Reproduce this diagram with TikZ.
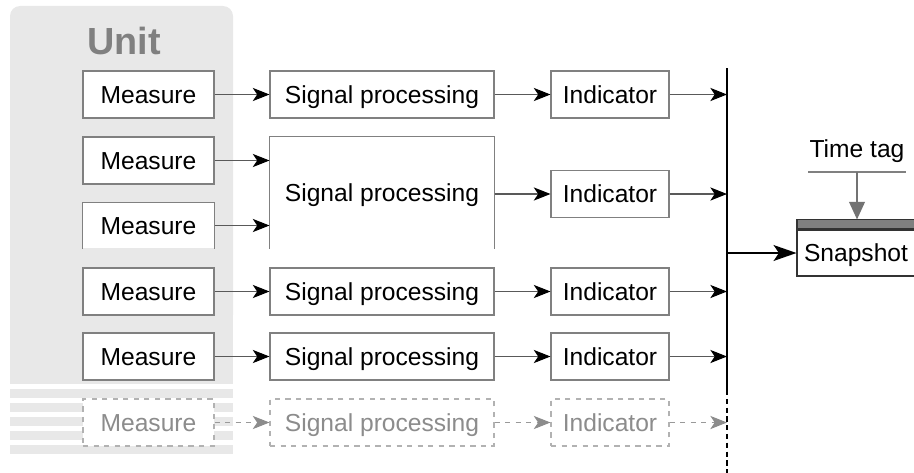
\documentclass[tikz,border=0pt]{standalone}
\usepackage{fontspec}
\setmainfont{Liberation Sans}
\usetikzlibrary{arrows.meta,calc}

\begin{document}
\begin{tikzpicture}[line width=0.6pt, font=\fontsize{14}{16}\selectfont,
    meas/.style={draw=black!50, fill=white, minimum height=0.94cm, minimum width=2.62cm, inner sep=0pt,
      text height=10pt, text depth=0pt},
    proc/.style={meas, minimum width=4.48cm},
    ind/.style={meas, minimum width=2.36cm},
    open/.style={draw=none},
    ghost/.style={dashed, draw=black!30, text=black!45},
    link/.style={-{Stealth[length=9.5pt,width=7.5pt,inset=2.5pt,black]}, black!65},
    ghostlink/.style={-{Stealth[length=9.5pt,width=7.5pt,inset=2.5pt,black!45]}, dashed, black!40}]
  \useasboundingbox (0,0) rectangle (18.28,-9.44);
  \clip (0,0) rectangle (18.28,-9.44);
  % ---------------- unit background ----------------
  \fill[black!9, rounded corners=0.2cm] (0.2,-0.12) rectangle (4.66,-6.5);
  \fill[black!9] (0.2,-3.0) rectangle (4.66,-7.68);
  \foreach \y in {7.78,8.06,8.34,8.62,8.9}
    \fill[black!9] (0.2,-\y) rectangle (4.66,-\y-0.17);
  \node[font=\fontsize{21.5}{24}\selectfont\bfseries, text=black!50] (unit) at (2.48,-0.81) {Unit};
  % ---------------- channels ----------------
  \node[meas] (m1) at (2.97,-1.89) {Measure};
  \node[proc] (p1) at (7.64,-1.89) {Signal processing};
  \node[ind]  (i1) at (12.2,-1.89) {Indicator};

  \node[meas] (m2) at (2.97,-3.21) {Measure};
  \node[meas, open, minimum height=0.9cm] (m3) at (2.97,-4.51) {Measure};
  \node[proc, open, minimum height=2.22cm] (p2) at (7.64,-3.85) {Signal processing};
  \node[ind]  (i2) at (12.2,-3.88) {Indicator};
  \draw[black!50] (m3.south west) |- (m3.north east) -- (m3.south east);
  \draw[black!50] (p2.south west) |- (p2.north east) -- (p2.south east);

  \node[meas] (m4) at (2.97,-5.83) {Measure};
  \node[proc] (p4) at (7.64,-5.83) {Signal processing};
  \node[ind]  (i4) at (12.2,-5.83) {Indicator};

  \node[meas] (m5) at (2.97,-7.13) {Measure};
  \node[proc] (p5) at (7.64,-7.13) {Signal processing};
  \node[ind]  (i5) at (12.2,-7.13) {Indicator};

  \node[meas, ghost] (m6) at (2.97,-8.45) {Measure};
  \node[proc, ghost] (p6) at (7.64,-8.45) {Signal processing};
  \node[ind, ghost]  (i6) at (12.2,-8.45) {Indicator};
  % ---------------- bus ----------------
  \coordinate (bustop) at (14.54,-1.36);
  \coordinate (busmid) at (14.54,-7.8);
  \coordinate (busend) at (14.54,-9.5);
  \draw[line width=1.2pt] (bustop) -- (busmid);
  \draw[line width=1.2pt, dash pattern=on 3pt off 2pt] (busmid) -- (busend);
  % ---------------- connectors ----------------
  \foreach \r in {1,4,5} {
    \draw[link] (m\r) -- (p\r);
    \draw[link] (p\r) -- (i\r);
    \draw[link] (i\r.east) -- (i\r.east -| bustop);
  }
  \draw[link] (m2.east) -- (m2.east -| p2.west);
  \draw[link] (m3.east) -- (m3.east -| p2.west);
  \draw[link] (i2.west -| p2.east) -- (i2.west);
  \draw[link] (i2.east) -- (i2.east -| bustop);
  \draw[ghostlink] (m6) -- (p6);
  \draw[ghostlink] (p6) -- (i6);
  \draw[ghostlink] (i6.east) -- (i6.east -| bustop);
  % ---------------- snapshot ----------------
  \node[draw=black!80, fill=white, minimum height=0.92cm, minimum width=2.36cm, inner sep=0pt,
        text height=10pt, text depth=0pt] (snap) at (17.12,-5.06) {Snapshot};
  \node[draw=black!80, fill=black!50, minimum height=0.18cm, minimum width=2.36cm, inner sep=0pt, anchor=south] (band) at (snap.north) {};
  \node (tag) at (17.14,-3.02) {Time tag};
  \coordinate (tagl) at (16.16,-3.44);
  \coordinate (tagr) at (18.12,-3.44);
  \draw[black!50, line width=1.2pt] (tagl) -- (tagr);
  \draw[-{Stealth[length=10pt,width=9pt,inset=0pt]}, black!55, line width=0.8pt] ($(tagl)!0.5!(tagr)$) -- (band.north -| tag);
  \draw[-{Stealth[length=13pt,width=9pt,inset=3pt]}, line width=1.2pt] (snap.west -| bustop) -- (snap.west);
\end{tikzpicture}
\end{document}
